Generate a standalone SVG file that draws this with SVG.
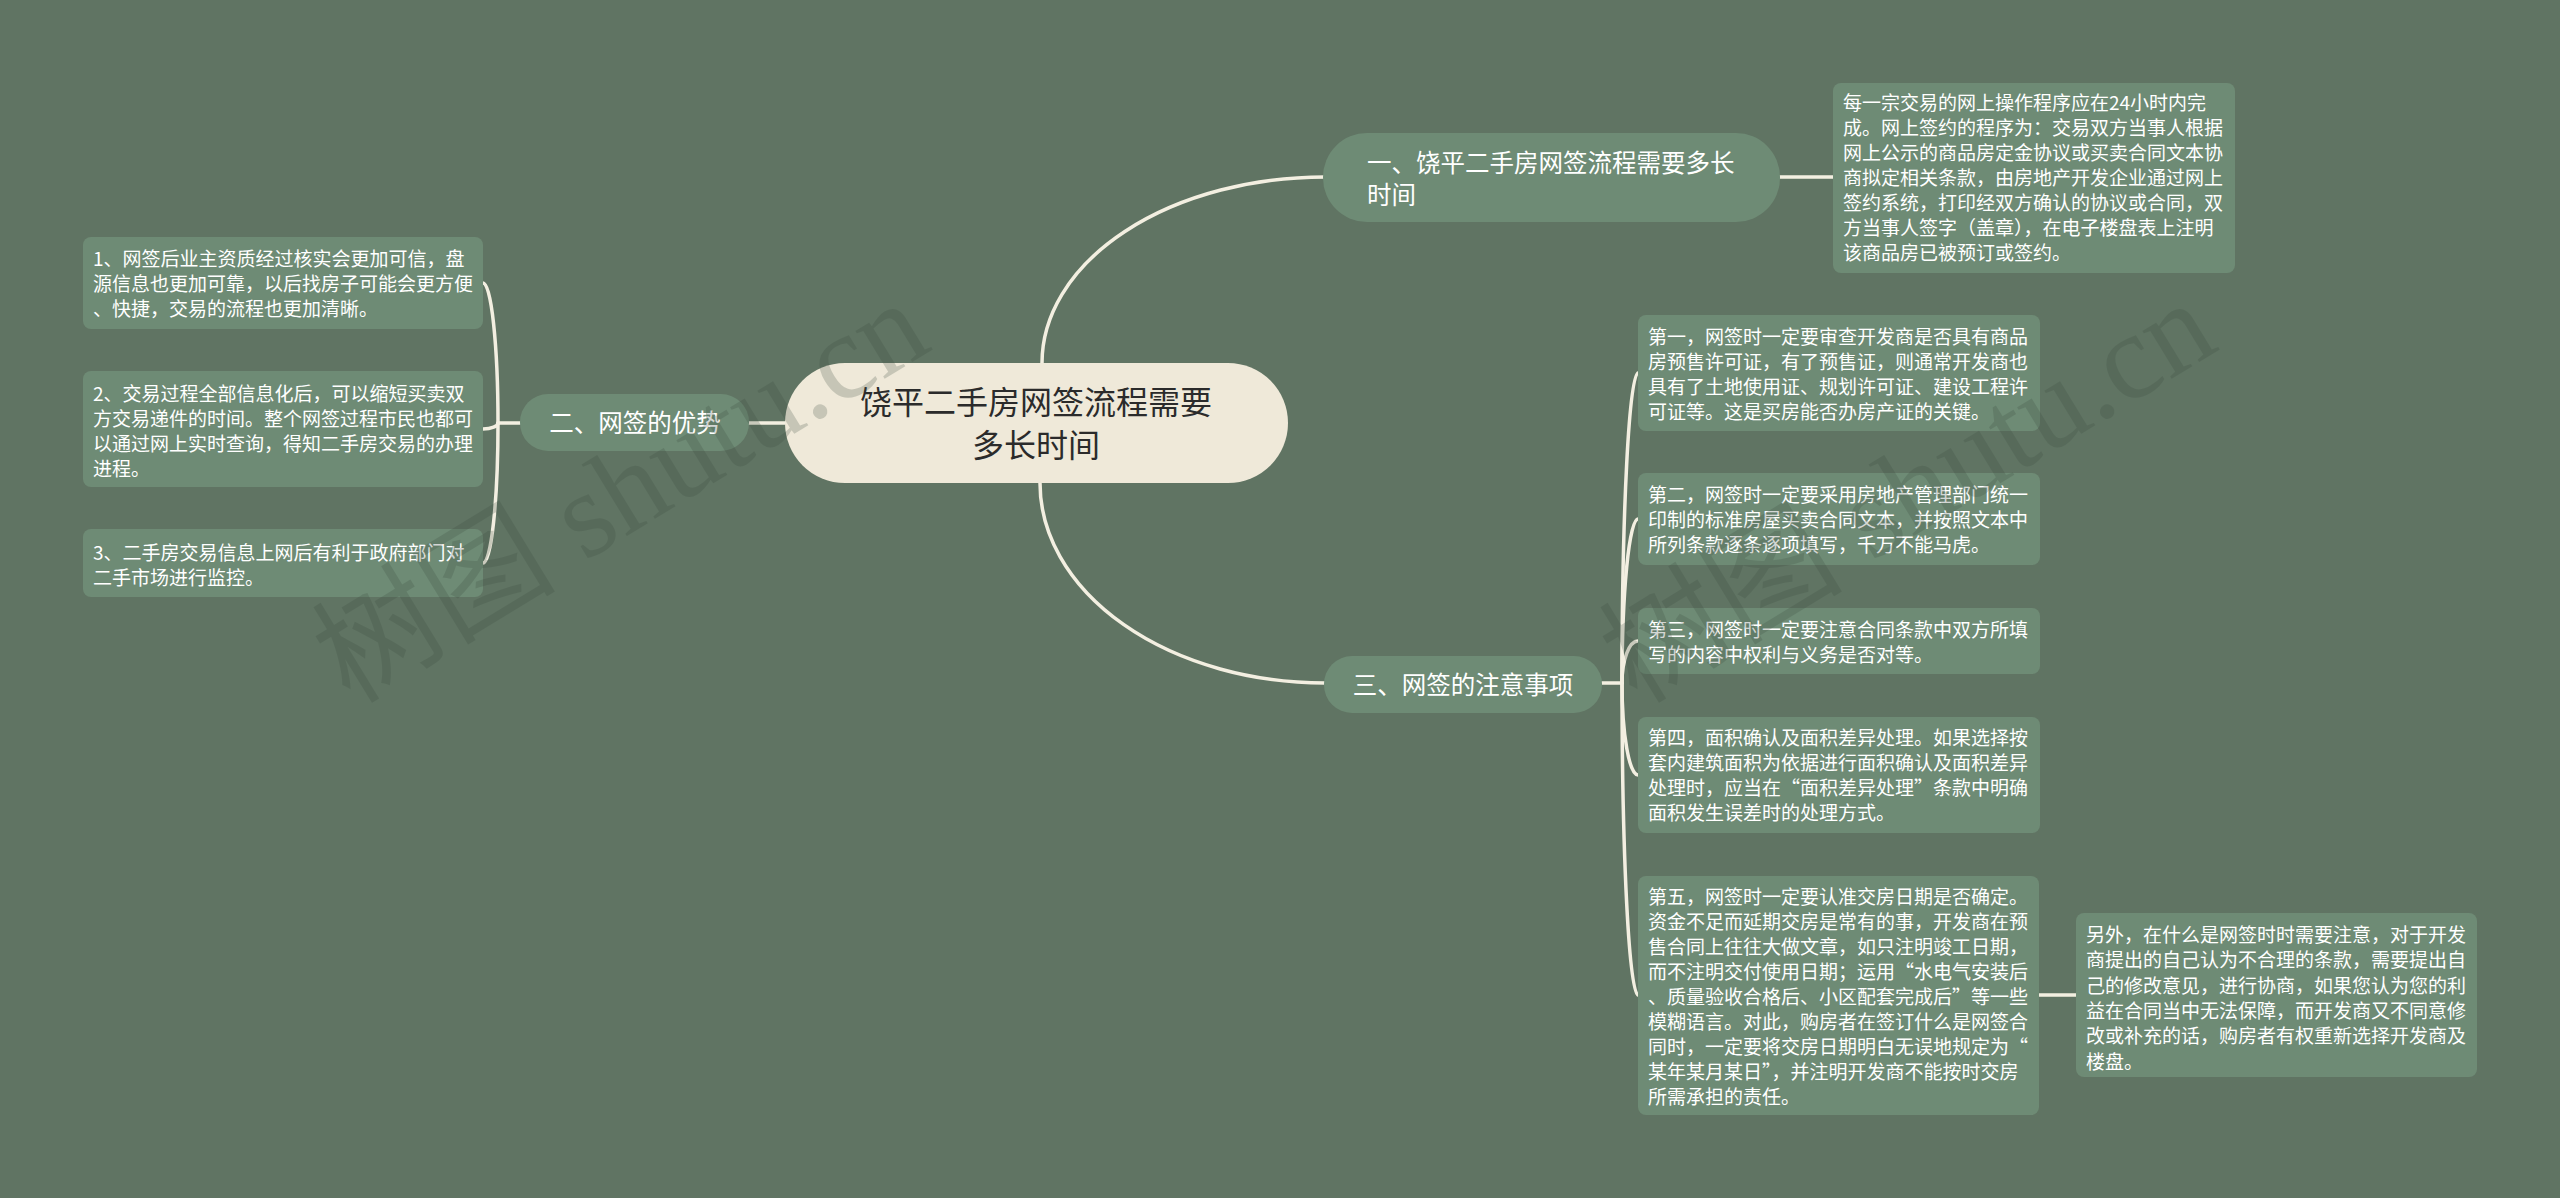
<svg xmlns="http://www.w3.org/2000/svg" width="2560" height="1198" viewBox="0 0 2560 1198">
<style>
.bg{fill:#607463}
.link{fill:none;stroke:#f3efe1;stroke-width:3.5;stroke-linecap:round}
.node{fill:#6e8b75}
.root{fill:#efe9d9}
.t{font-family:"Noto Sans CJK SC","Noto Sans",sans-serif;fill:#ffffff}
.leaf{font-size:19px}
.mid{font-size:24.5px}
.rt{font-size:32px;fill:#2b2b2b}
.wm{font-family:"Liberation Serif","Noto Sans CJK SC",serif;font-size:122px;fill:#3a4a3e;opacity:0.22}
</style>
<rect class="bg" x="0" y="0" width="2560" height="1198"/>

<g id="connectors">
  <path class="link" d="M1042 363 A283 186 0 0 1 1325 177"/>
  <path class="link" d="M1040 483 A285 200 0 0 0 1325 683"/>
  <path class="link" d="M785 423 L749 423"/>
  <path class="link" d="M1780 177 L1833 177"/>
  <path class="link" d="M520 423 L498 423"/>
  <path class="link" d="M498 423 A15 140 0 0 0 483 283"/>
  <path class="link" d="M498 423 A15 6 0 0 1 483 429"/>
  <path class="link" d="M498 423 A15 140 0 0 1 483 563"/>
  <path class="link" d="M1602 683 L1622 683"/>
  <path class="link" d="M1622 683 A16 310 0 0 1 1638 373"/>
  <path class="link" d="M1622 683 A16 164 0 0 1 1638 519"/>
  <path class="link" d="M1622 683 A16 42 0 0 1 1638 641"/>
  <path class="link" d="M1622 683 A16 92 0 0 0 1638 775"/>
  <path class="link" d="M1622 683 A16 312 0 0 0 1638 995"/>
  <path class="link" d="M2039 995 L2076 995"/>
</g>

<g id="root">
  <rect class="root" x="785" y="363" width="503" height="120" rx="60"/>
  <text class="t rt" text-anchor="middle"><tspan x="1036" y="414">饶平二手房网签流程需要</tspan><tspan x="1036" y="457">多长时间</tspan></text>
</g>

<g id="n1">
  <rect class="node" x="1323" y="133" width="457" height="89" rx="44"/>
  <text class="t mid"><tspan x="1367" y="172">一、饶平二手房网签流程需要多长</tspan><tspan x="1367" y="204">时间</tspan></text>
</g>

<g id="n1-leaf">
  <rect class="node" x="1833" y="83" width="402" height="190" rx="8"/>
  <text class="t leaf">
    <tspan x="1843" y="110">每一宗交易的网上操作程序应在24小时内完</tspan>
    <tspan x="1843" y="135">成。网上签约的程序为：交易双方当事人根据</tspan>
    <tspan x="1843" y="160">网上公示的商品房定金协议或买卖合同文本协</tspan>
    <tspan x="1843" y="185">商拟定相关条款，由房地产开发企业通过网上</tspan>
    <tspan x="1843" y="210">签约系统，打印经双方确认的协议或合同，双</tspan>
    <tspan x="1843" y="235">方当事人签字（盖章），在电子楼盘表上注明</tspan>
    <tspan x="1843" y="260">该商品房已被预订或签约。</tspan>
  </text>
</g>

<g id="n2">
  <rect class="node" x="520" y="394" width="229" height="57" rx="28"/>
  <text class="t mid" text-anchor="middle" x="635" y="432">二、网签的优势</text>
</g>

<g id="n2-leaf1">
  <rect class="node" x="83" y="237" width="400" height="92" rx="8"/>
  <text class="t leaf">
    <tspan x="93" y="266">1、网签后业主资质经过核实会更加可信，盘</tspan>
    <tspan x="93" y="291">源信息也更加可靠，以后找房子可能会更方便</tspan>
    <tspan x="93" y="316">、快捷，交易的流程也更加清晰。</tspan>
  </text>
</g>

<g id="n2-leaf2">
  <rect class="node" x="83" y="371" width="400" height="116" rx="8"/>
  <text class="t leaf">
    <tspan x="93" y="401">2、交易过程全部信息化后，可以缩短买卖双</tspan>
    <tspan x="93" y="426">方交易递件的时间。整个网签过程市民也都可</tspan>
    <tspan x="93" y="451">以通过网上实时查询，得知二手房交易的办理</tspan>
    <tspan x="93" y="476">进程。</tspan>
  </text>
</g>

<g id="n2-leaf3">
  <rect class="node" x="83" y="529" width="400" height="68" rx="8"/>
  <text class="t leaf">
    <tspan x="93" y="560">3、二手房交易信息上网后有利于政府部门对</tspan>
    <tspan x="93" y="585">二手市场进行监控。</tspan>
  </text>
</g>

<g id="n3">
  <rect class="node" x="1324" y="656" width="278" height="57" rx="28"/>
  <text class="t mid" text-anchor="middle" x="1463" y="694">三、网签的注意事项</text>
</g>

<g id="n3-leaf1">
  <rect class="node" x="1638" y="315" width="402" height="116" rx="8"/>
  <text class="t leaf">
    <tspan x="1648" y="344">第一，网签时一定要审查开发商是否具有商品</tspan>
    <tspan x="1648" y="369">房预售许可证，有了预售证，则通常开发商也</tspan>
    <tspan x="1648" y="394">具有了土地使用证、规划许可证、建设工程许</tspan>
    <tspan x="1648" y="419">可证等。这是买房能否办房产证的关键。</tspan>
  </text>
</g>

<g id="n3-leaf2">
  <rect class="node" x="1638" y="473" width="402" height="92" rx="8"/>
  <text class="t leaf">
    <tspan x="1648" y="502">第二，网签时一定要采用房地产管理部门统一</tspan>
    <tspan x="1648" y="527">印制的标准房屋买卖合同文本，并按照文本中</tspan>
    <tspan x="1648" y="552">所列条款逐条逐项填写，千万不能马虎。</tspan>
  </text>
</g>

<g id="n3-leaf3">
  <rect class="node" x="1638" y="608" width="402" height="66" rx="8"/>
  <text class="t leaf">
    <tspan x="1648" y="637">第三，网签时一定要注意合同条款中双方所填</tspan>
    <tspan x="1648" y="662">写的内容中权利与义务是否对等。</tspan>
  </text>
</g>

<g id="n3-leaf4">
  <rect class="node" x="1638" y="717" width="402" height="116" rx="8"/>
  <text class="t leaf">
    <tspan x="1648" y="745">第四，面积确认及面积差异处理。如果选择按</tspan>
    <tspan x="1648" y="770">套内建筑面积为依据进行面积确认及面积差异</tspan>
    <tspan x="1648" y="795">处理时，应当在“面积差异处理”条款中明确</tspan>
    <tspan x="1648" y="820">面积发生误差时的处理方式。</tspan>
  </text>
</g>

<g id="n3-leaf5">
  <rect class="node" x="1638" y="876" width="401" height="239" rx="8"/>
  <text class="t leaf">
    <tspan x="1648" y="904">第五，网签时一定要认准交房日期是否确定。</tspan>
    <tspan x="1648" y="929">资金不足而延期交房是常有的事，开发商在预</tspan>
    <tspan x="1648" y="954">售合同上往往大做文章，如只注明竣工日期，</tspan>
    <tspan x="1648" y="979">而不注明交付使用日期；运用“水电气安装后</tspan>
    <tspan x="1648" y="1004">、质量验收合格后、小区配套完成后”等一些</tspan>
    <tspan x="1648" y="1029">模糊语言。对此，购房者在签订什么是网签合</tspan>
    <tspan x="1648" y="1054">同时，一定要将交房日期明白无误地规定为“</tspan>
    <tspan x="1648" y="1079">某年某月某日”，并注明开发商不能按时交房</tspan>
    <tspan x="1648" y="1104">所需承担的责任。</tspan>
  </text>
</g>

<g id="n3-leaf5-sub">
  <rect class="node" x="2076" y="913" width="401" height="164" rx="8"/>
  <text class="t leaf">
    <tspan x="2086" y="942">另外，在什么是网签时时需要注意，对于开发</tspan>
    <tspan x="2086" y="967">商提出的自己认为不合理的条款，需要提出自</tspan>
    <tspan x="2086" y="993">己的修改意见，进行协商，如果您认为您的利</tspan>
    <tspan x="2086" y="1018">益在合同当中无法保障，而开发商又不同意修</tspan>
    <tspan x="2086" y="1043">改或补充的话，购房者有权重新选择开发商及</tspan>
    <tspan x="2086" y="1069">楼盘。</tspan>
  </text>
</g>

<g id="watermarks">
  <text class="wm" x="350" y="705" transform="rotate(-31.4 350 705)">树图 shutu.cn</text>
  <text class="wm" x="1637" y="705" transform="rotate(-31.4 1637 705)">树图 shutu.cn</text>
</g>
</svg>
